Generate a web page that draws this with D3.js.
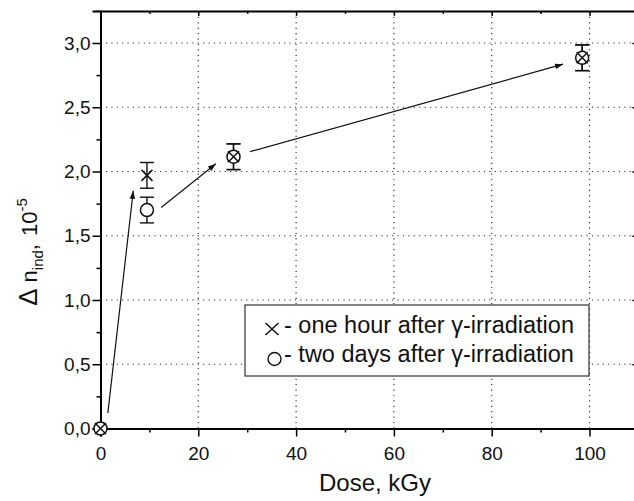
<!DOCTYPE html>
<html>
<head>
<meta charset="utf-8">
<script src="https://cdn.jsdelivr.net/npm/d3@7"></script>
<style>
  body { margin: 0; background: #fff; }
  svg { display: block; }
  text { font-family: "Liberation Sans", Arial, sans-serif; fill: #111; }
</style>
</head>
<body>
<svg width="634" height="501"></svg>
<script>
// data
var doses = [0, 9.5, 27.2, 98.5];
var hourValues = [0, 1.97, 2.115, 2.885];
var hourErrors = [0, 0.1, 0.1, 0.1];
var dayValues = [0, 1.70, 2.115, 2.885];
var dayErrors = [0, 0.1, 0.1, 0.1];

// arrows, in data units [dose, value]
var arrowFrom = [[1.5, 0.12], [12.4, 1.72], [30.6, 2.155]];
var arrowTo = [[6.7, 1.85], [23.6, 2.06], [94.6, 2.835]];

var xTicks = [0, 20, 40, 60, 80, 100];
var xMinor = [10, 30, 50, 70, 90, 110];
var yTicks = [0, 0.5, 1.0, 1.5, 2.0, 2.5, 3.0];
var yMinor = [0.25, 0.75, 1.25, 1.75, 2.25, 2.75, 3.25];

var legendLabels = ["- one hour after \u03b3-irradiation", "- two days after \u03b3-irradiation"];

var width = 634, height = 501;
var margin = {top: 11, left: 100.5, bottom: 72.5};

var x = d3.scaleLinear().domain([0, 110]).range([margin.left, margin.left + 110 * 4.89]);
var y = d3.scaleLinear().domain([0, 3.25]).range([height - margin.bottom, height - margin.bottom - 3.25 * 128.5]);

var svg = d3.select('svg');
var x0 = x(0), x1 = x(110), y0 = y(0), y1 = y(3.25);

var fmt = function (d) { return d3.format('.1f')(d).replace('.', ','); };

// dotted grid
var grid = svg.append('g').attr('stroke', '#333').attr('stroke-width', 1.2)
    .attr('stroke-dasharray', '1.2,4.2');
grid.selectAll('.gx').data(xTicks.slice(1)).enter().append('line')
    .attr('x1', d => x(d)).attr('x2', d => x(d)).attr('y1', y0).attr('y2', y1);
grid.selectAll('.gy').data(yTicks.slice(1)).enter().append('line')
    .attr('x1', x0).attr('x2', x1).attr('y1', d => y(d)).attr('y2', d => y(d));

// axes
var xAxis = d3.axisBottom(x).tickValues(xTicks).tickFormat(d3.format('d')).tickSize(8).tickPadding(10);
var yAxis = d3.axisLeft(y).tickValues(yTicks).tickFormat(fmt).tickSize(8).tickPadding(2);

function styleAxis(g) {
    g.select('.domain').attr('stroke', '#000').attr('stroke-width', 2);
    g.selectAll('.tick line').attr('stroke', '#000').attr('stroke-width', 1.5);
    g.selectAll('.tick text').attr('font-size', 19).attr('fill', '#111')
        .attr('font-family', '"Liberation Sans", Arial, sans-serif');
}

svg.append('g').attr('transform', 'translate(0,' + y0 + ')').call(xAxis).call(styleAxis);
svg.append('g').attr('transform', 'translate(0,' + y0 + ')')
    .call(d3.axisBottom(x).tickValues(xMinor).tickSize(4).tickFormat(''))
    .call(styleAxis).select('.domain').remove();
svg.append('g').attr('transform', 'translate(' + x0 + ',0)').call(yAxis).call(styleAxis);
svg.append('g').attr('transform', 'translate(' + x0 + ',0)')
    .call(d3.axisLeft(y).tickValues(yMinor).tickSize(4).tickFormat(''))
    .call(styleAxis).select('.domain').remove();
// top and right
svg.append('g').attr('transform', 'translate(0,' + y1 + ')')
    .call(d3.axisBottom(x).tickValues(xTicks).tickSize(5).tickFormat('').tickSizeOuter(0))
    .call(styleAxis);
svg.append('g').attr('transform', 'translate(0,' + y1 + ')')
    .call(d3.axisBottom(x).tickValues(xMinor).tickSize(3).tickFormat(''))
    .call(styleAxis).select('.domain').remove();
svg.append('g').attr('transform', 'translate(' + x1 + ',0)')
    .call(d3.axisLeft(y).tickValues(yTicks).tickSize(6).tickFormat('').tickSizeOuter(0))
    .call(styleAxis);

// axis titles
svg.append('text').attr('x', 375).attr('y', 491).attr('text-anchor', 'middle')
    .attr('font-size', 24).text('Dose, kGy');

var yl = svg.append('text').attr('transform', 'translate(37,252) rotate(-90)')
    .attr('text-anchor', 'middle').attr('font-size', 22);
yl.append('tspan').attr('font-size', 26).text('\u0394');
yl.append('tspan').attr('dx', 6).text('n');
yl.append('tspan').attr('font-size', 15).attr('dy', 6).text('ind');
yl.append('tspan').attr('dy', -6).text(',');
yl.append('tspan').attr('dx', 8).text('10');
yl.append('tspan').attr('font-size', 15).attr('dy', -10).text('-5');

// arrows
svg.append('defs').append('marker').attr('id', 'head')
    .attr('viewBox', '0 0 10 10').attr('refX', 10).attr('refY', 5)
    .attr('markerWidth', 10).attr('markerHeight', 8).attr('markerUnits', 'userSpaceOnUse')
    .attr('orient', 'auto')
    .append('path').attr('d', 'M0,1.5 L10,5 L0,8.5 Z').attr('fill', '#111');

svg.selectAll('.arrow').data(arrowFrom).enter().append('line')
    .attr('x1', d => x(d[0])).attr('y1', d => y(d[1]))
    .attr('x2', (d, i) => x(arrowTo[i][0])).attr('y2', (d, i) => y(arrowTo[i][1]))
    .attr('stroke', '#111').attr('stroke-width', 1.2).attr('marker-end', 'url(#head)');

// error bars
function errorBars(values, errors) {
    var g = svg.append('g').attr('stroke', '#111').attr('stroke-width', 1.4);
    doses.forEach(function (d, i) {
        if (!errors[i]) return;
        var cx = x(d), top = y(values[i] + errors[i]), bot = y(values[i] - errors[i]);
        g.append('line').attr('x1', cx).attr('x2', cx).attr('y1', top).attr('y2', bot);
        g.append('line').attr('x1', cx - 7).attr('x2', cx + 7).attr('y1', top).attr('y2', top);
        g.append('line').attr('x1', cx - 7).attr('x2', cx + 7).attr('y1', bot).attr('y2', bot);
    });
}
errorBars(hourValues, hourErrors);
errorBars(dayValues, dayErrors);

// symbols
function cross(g, cx, cy, rx, ry) {
    ry = ry || rx;
    g.append('path').attr('d', 'M' + (cx - rx) + ',' + (cy - ry) + 'L' + (cx + rx) + ',' + (cy + ry) +
        'M' + (cx - rx) + ',' + (cy + ry) + 'L' + (cx + rx) + ',' + (cy - ry))
        .attr('stroke', '#111').attr('stroke-width', 1.5).attr('fill', 'none');
}
function ring(g, cx, cy, r) {
    g.append('circle').attr('cx', cx).attr('cy', cy).attr('r', r)
        .attr('stroke', '#111').attr('stroke-width', 1.5).attr('fill', '#fff');
}

var marks = svg.append('g');
doses.forEach(function (d, i) { ring(marks, x(d), y(dayValues[i]), 6.5); });
doses.forEach(function (d, i) { cross(marks, x(d), y(hourValues[i]), 5.5); });

// legend
var lg = svg.append('g');
lg.append('rect').attr('x', 245).attr('y', 305).attr('width', 344).attr('height', 71)
    .attr('fill', '#fff').attr('stroke', '#333').attr('stroke-width', 1.2);
cross(lg, 272, 329, 6.5, 6);
lg.append('circle').attr('cx', 274.5).attr('cy', 359).attr('r', 6.5)
    .attr('stroke', '#111').attr('stroke-width', 1.4).attr('fill', 'none');
lg.selectAll('.lt').data(legendLabels).enter().append('text')
    .attr('x', 284).attr('y', (d, i) => 333 + i * 29)
    .attr('font-size', 23.5).text(d => d);
</script>
</body>
</html>
